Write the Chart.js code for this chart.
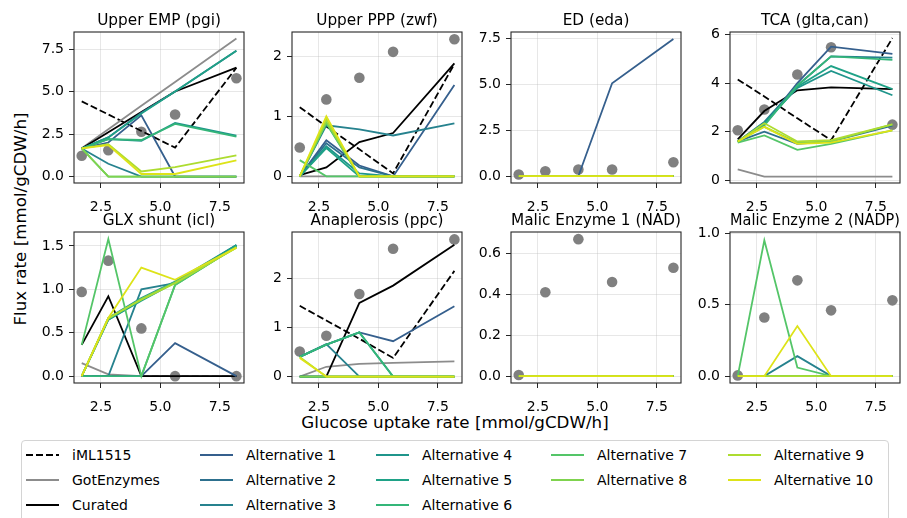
<!DOCTYPE html>
<html>
<head>
<meta charset="utf-8">
<script src="https://cdn.jsdelivr.net/npm/chart.js@4.4.1/dist/chart.umd.min.js"></script>
<style>
  body { margin: 0; background: #fff; font-family: 'DejaVu Sans', sans-serif; }
  #figure { position: relative; width: 907px; height: 518px; overflow: hidden; background: #fff; }
  #figure canvas { position: absolute; }
  .axis-label { position: absolute; font-size: 16.7px; color: #000; white-space: nowrap; }
  #legend { position: absolute; left: 21px; top: 440px; width: 866px; height: 100px;
            border: 1px solid #d4d4d4; border-radius: 4px; background: #fff; }
  .entry { position: absolute; height: 18px; font-size: 14px; line-height: 18px; color: #000; white-space: nowrap; }
  .entry svg { position: absolute; left: 0; top: 0; }
  .entry span { position: absolute; left: 46px; top: 0; }
</style>
</head>
<body>
<div id="figure">
  <div class="axis-label" id="ylab">Flux rate [mmol/gCDW/h]</div>
  <div class="axis-label" id="xlab">Glucose uptake rate [mmol/gCDW/h]</div>
  <div id="legend"></div>
</div>
<script>
// glucose uptake rates of the five conditions
const glucoseUptake = [1.69, 2.81, 4.2, 5.62, 8.2];

const seriesNames = ['iML1515', 'GotEnzymes', 'Curated',
  'Alternative 1', 'Alternative 2', 'Alternative 3', 'Alternative 4', 'Alternative 5',
  'Alternative 6', 'Alternative 7', 'Alternative 8', 'Alternative 9', 'Alternative 10'];

const panelTitles = ['Upper EMP (pgi)', 'Upper PPP (zwf)', 'ED (eda)', 'TCA (glta,can)',
  'GLX shunt (icl)', 'Anaplerosis (ppc)', 'Malic Enzyme 1 (NAD)', 'Malic Enzyme 2 (NADP)'];

// simulated fluxes, one row per entry of seriesNames
const upperEMP = [
  [4.42, 3.65, 2.68, 1.70, 6.4],
  [1.67, 2.78, 4.16, 5.56, 8.12],
  [1.65, 2.6, 3.8, 5.0, 6.4],
  [1.65, 2.0, 3.6, 0, 0],
  [1.65, 2.3, 3.75, 5.0, 7.4],
  [1.65, 0.75, 0, 0, 0],
  [1.65, 2.2, 2.1, 3.15, 2.4],
  [1.65, 2.3, 3.7, 5.0, 7.4],
  [1.65, 2.2, 2.15, 3.1, 2.35],
  [1.65, 0, 0, 0, 0],
  [1.65, 0, 0, 0, 0],
  [1.65, 1.9, 0.3, 0.55, 1.25],
  [1.65, 1.85, 0.15, 0.15, 0.95]
];
const upperPPP = [
  [1.15, 0.83, 0.45, 0.05, 1.87],
  [0, 0, 0, 0, 0],
  [0.02, 0.15, 0.57, 0.72, 1.88],
  [0, 0.6, 0.18, 0, 1.52],
  [0, 0.55, 0.15, 0, 0],
  [0, 0.85, 0.78, 0.68, 0.88],
  [0, 0.5, 0.05, 0, 0],
  [0, 0.47, 0, 0, 0],
  [0, 0.88, 0, 0, 0],
  [0.27, 0, 0, 0, 0],
  [0, 0.9, 0, 0, 0],
  [0, 0.95, 0, 0, 0],
  [0, 1.0, 0, 0, 0]
];
const edPathway = [
  [0, 0, 0, 0, 0],
  [0, 0, 0, 0, 0],
  [0, 0, 0, 0, 0],
  [0, 0, 0, 5.05, 7.45],
  [0, 0, 0, 0, 0],
  [0, 0, 0, 0, 0],
  [0, 0, 0, 0, 0],
  [0, 0, 0, 0, 0],
  [0, 0, 0, 0, 0],
  [0, 0, 0, 0, 0],
  [0, 0, 0, 0, 0],
  [0, 0, 0, 0, 0],
  [0, 0, 0, 0, 0]
];
const tcaCycle = [
  [4.15, 3.45, 2.55, 1.65, 5.85],
  [0.45, 0.15, 0.15, 0.15, 0.15],
  [1.68, 2.85, 3.7, 3.82, 3.75],
  [1.6, 2.3, 4.0, 5.5, 5.2],
  [1.6, 2.0, 1.5, 1.6, 2.25],
  [1.6, 2.4, 3.9, 5.1, 5.05],
  [1.6, 2.35, 3.8, 4.5, 3.5],
  [1.6, 2.3, 3.85, 4.7, 3.75],
  [1.6, 2.25, 3.9, 5.1, 4.95],
  [1.55, 1.85, 1.25, 1.5, 2.05],
  [1.6, 2.2, 1.55, 1.6, 2.3],
  [1.6, 2.35, 1.6, 1.65, 2.3],
  [1.6, 2.2, 1.5, 1.55, 2.05]
];
const glxShunt = [
  [0, 0, 0, 0, 0],
  [0.15, 0.02, 0, 0, 0],
  [0.36, 0.92, 0, 0, 0],
  [0, 0, 0, 0.38, 0],
  [0, 0.65, 0.88, 1.08, 1.5],
  [0, 0, 1.0, 1.07, 1.51],
  [0, 0.67, 0.9, 1.09, 1.51],
  [0, 0.65, 0.87, 1.08, 1.5],
  [0, 0, 0, 1.05, 1.49],
  [0.36, 1.58, 0, 1.05, 1.49],
  [0, 0.66, 0.89, 1.08, 1.48],
  [0, 0.67, 0.88, 1.07, 1.48],
  [0, 0.67, 1.25, 1.11, 1.48]
];
const anaplerosis = [
  [1.44, 1.14, 0.77, 0.38, 2.15],
  [0, 0.2, 0.26, 0.28, 0.31],
  [0, 0, 1.5, 1.85, 2.68],
  [0.4, 0.65, 0.9, 0.72, 1.43],
  [0, 0, 0, 0, 0],
  [0.4, 0.66, 0, 0, 0],
  [0, 0, 0, 0, 0],
  [0.4, 0.65, 0.9, 0, 0],
  [0.4, 0.65, 0.9, 0, 0],
  [0, 0, 0, 0, 0],
  [0, 0, 0, 0, 0],
  [0.4, 0, 0, 0, 0],
  [0.38, 0, 0, 0, 0]
];
const malicNAD = [
  [0, 0, 0, 0, 0],
  [0, 0, 0, 0, 0],
  [0, 0, 0, 0, 0],
  [0, 0, 0, 0, 0],
  [0, 0, 0, 0, 0],
  [0, 0, 0, 0, 0],
  [0, 0, 0, 0, 0],
  [0, 0, 0, 0, 0],
  [0, 0, 0, 0, 0],
  [0, 0, 0, 0, 0],
  [0, 0, 0, 0, 0],
  [0, 0, 0, 0, 0],
  [0, 0, 0, 0, 0]
];
const malicNADP = [
  [0, 0, 0, 0, 0],
  [0, 0, 0, 0, 0],
  [0, 0, 0, 0, 0],
  [0, 0, 0, 0, 0],
  [0, 0, 0, 0, 0],
  [0, 0, 0.14, 0, 0],
  [0, 0, 0, 0, 0],
  [0, 0, 0, 0, 0],
  [0, 0, 0, 0, 0],
  [0, 0.95, 0.06, 0, 0],
  [0, 0, 0, 0, 0],
  [0, 0, 0, 0, 0],
  [0, 0, 0.35, 0, 0]
];

// measured fluxes (grey dots)
const upperEMPMeasured = [1.22, 1.55, 2.63, 3.65, 5.78];
const upperPPPMeasured = [0.48, 1.28, 1.64, 2.07, 2.28];
const edMeasured = [0.09, 0.27, 0.36, 0.36, 0.76];
const tcaMeasured = [2.06, 2.91, 4.35, 5.47, 2.29];
const glxMeasured = [0.97, 1.33, 0.55, 0.0, 0.0];
const anaplerosisMeasured = [0.51, 0.83, 1.68, 2.6, 2.79];
const malicNADMeasured = [0.005, 0.41, 0.67, 0.46, 0.53];
const malicNADPMeasured = [0.005, 0.41, 0.67, 0.46, 0.53];

// tick labels
const xTickLabels = ['2.5', '5.0', '7.5'];
const yTickLabels = [
  ['0.0', '2.5', '5.0', '7.5'],
  ['0', '1', '2'],
  ['0.0', '2.5', '5.0', '7.5'],
  ['0', '2', '4', '6'],
  ['0.0', '0.5', '1.0', '1.5'],
  ['0', '1', '2'],
  ['0.0', '0.2', '0.4', '0.6'],
  ['0.0', '0.5', '1.0']
];

const panelFluxes = [upperEMP, upperPPP, edPathway, tcaCycle, glxShunt, anaplerosis, malicNAD, malicNADP];
const panelMeasured = [upperEMPMeasured, upperPPPMeasured, edMeasured, tcaMeasured,
  glxMeasured, anaplerosisMeasured, malicNADMeasured, malicNADPMeasured];

// axis limits and styling
const xLimits = [1.365, 8.52];
const yLimits = [[-0.38, 8.5], [-0.11, 2.4], [-0.37, 7.83], [-0.11, 6.1],
  [-0.079, 1.66], [-0.13, 2.94], [-0.034, 0.705], [-0.048, 1.008]];
const seriesColors = ['#000000', '#8c8c8c', '#000000',
  '#355f8d', '#2d708e', '#26828e', '#1f958b', '#1fa287',
  '#34b679', '#54c568', '#7fd34e', '#addc30', '#dde318'];
const seriesDash = [[7, 3], [], []];

const colLeft = [74, 292, 511, 730];
const rowTop = [32, 232];
const plotW = 170, plotH = 151;
const yAxisW = 52, xAxisH = 34, titleH = 20, padRight = 6;
const font = 'DejaVu Sans';
const gridColor = 'rgba(176,176,176,0.3)';

Chart.defaults.font.family = font;
Chart.defaults.color = '#000';

const frame = {
  id: 'frame',
  afterDatasetsDraw(chart) {
    const { ctx, chartArea: a } = chart;
    ctx.save();
    ctx.strokeStyle = '#262626';
    ctx.lineWidth = 1.1;
    ctx.strokeRect(a.left, a.top, a.right - a.left, a.bottom - a.top);
    ctx.restore();
  }
};

const fig = document.getElementById('figure');

panelTitles.forEach((title, i) => {
  const r = Math.floor(i / 4), c = i % 4;
  const canvas = document.createElement('canvas');
  canvas.width = yAxisW + plotW + padRight;
  canvas.height = titleH + plotH + xAxisH;
  canvas.style.left = (colLeft[c] - yAxisW) + 'px';
  canvas.style.top = (rowTop[r] - titleH) + 'px';
  fig.appendChild(canvas);

  const datasets = [{
    type: 'scatter',
    label: 'measured',
    data: glucoseUptake.map((x, k) => ({ x, y: panelMeasured[i][k] })),
    pointRadius: 5.3,
    pointBackgroundColor: '#808080',
    pointBorderWidth: 0,
    showLine: false,
    order: 100
  }];
  panelFluxes[i].forEach((vals, s) => {
    datasets.push({
      type: 'line',
      label: seriesNames[s],
      data: glucoseUptake.map((x, k) => ({ x, y: vals[k] })),
      borderColor: seriesColors[s],
      borderWidth: 1.8,
      borderDash: seriesDash[s] || [],
      pointRadius: 0,
      tension: 0,
      fill: false,
      order: 50 - s
    });
  });

  const yTicks = yTickLabels[i];
  new Chart(canvas, {
    type: 'line',
    data: { datasets },
    options: {
      responsive: false,
      animation: false,
      devicePixelRatio: 1,
      layout: { padding: { top: 0, right: padRight, bottom: 0, left: 0 } },
      plugins: {
        legend: { display: false },
        tooltip: { enabled: false },
        title: {
          display: true, text: title, color: '#000', fullSize: false,
          font: { size: 15.3, weight: 'normal', lineHeight: 1.1765 },
          padding: { top: 0, bottom: 2 }
        }
      },
      scales: {
        x: {
          type: 'linear', min: xLimits[0], max: xLimits[1],
          afterBuildTicks: a => { a.ticks = xTickLabels.map(t => ({ value: parseFloat(t) })); },
          afterFit: s => { s.height = xAxisH; },
          ticks: { callback: (v, k) => xTickLabels[k], padding: 11, maxRotation: 0, autoSkip: false,
                   color: '#000', font: { size: 14 } },
          grid: { color: gridColor, lineWidth: 1, tickColor: '#262626', tickLength: 5, tickWidth: 1 },
          border: { display: false }
        },
        y: {
          type: 'linear', min: yLimits[i][0], max: yLimits[i][1],
          afterBuildTicks: a => { a.ticks = yTicks.map(t => ({ value: parseFloat(t) })); },
          afterFit: s => { s.width = yAxisW; },
          ticks: { callback: (v, k) => yTicks[k], padding: 5, autoSkip: false,
                   color: '#000', font: { size: 14 } },
          grid: { color: gridColor, lineWidth: 1, tickColor: '#262626', tickLength: 5, tickWidth: 1 },
          border: { display: false }
        }
      }
    },
    plugins: [frame]
  });
});

// shared axis labels
const ylab = document.getElementById('ylab');
ylab.style.left = '20px';
ylab.style.top = '219px';
ylab.style.transform = 'translate(-50%, -50%) rotate(-90deg)';
const xlab = document.getElementById('xlab');
xlab.style.left = '455px';
xlab.style.top = '422px';
xlab.style.transform = 'translate(-50%, -50%)';

// legend, filled column by column
const legendCols = [4, 178, 354, 529, 706];
const legendRows = [5, 30, 55];
const legendLayout = [[0, 1, 2], [3, 4, 5], [6, 7, 8], [9, 10], [11, 12]];
const legend = document.getElementById('legend');
legendLayout.forEach((col, ci) => {
  col.forEach((s, ri) => {
    const e = document.createElement('div');
    e.className = 'entry';
    e.style.left = legendCols[ci] + 'px';
    e.style.top = legendRows[ri] + 'px';
    const dash = seriesDash[s] && seriesDash[s].length ? ` stroke-dasharray="${seriesDash[s].join(',')}"` : '';
    e.innerHTML = `<svg width="36" height="18"><line x1="0" y1="9" x2="33" y2="9" stroke="${seriesColors[s]}" stroke-width="1.8"${dash}/></svg><span>${seriesNames[s]}</span>`;
    legend.appendChild(e);
  });
});
</script>
</body>
</html>
